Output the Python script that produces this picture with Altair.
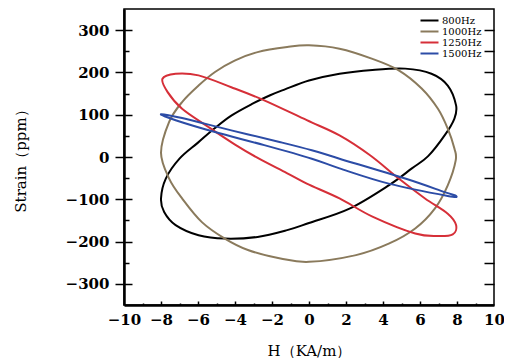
import altair as alt
import pandas as pd

freqs = ["800Hz", "1000Hz", "1250Hz", "1500Hz"]
colors = ["#000000", "#8a7a5c", "#d62f38", "#2c4ca6"]

h_800 = [7.95, 7.5, 6.62, 5.2, 3.43, 1.65, 0.0, -1.3, -2.1, -3.1, -4.2, -5.1, -6.0, -7.0, -7.74, -8.0, -7.83, -7.21, -5.97, -4.55, -2.78, -1.18, 0.0, 2.19, 4.31, 5.56, 6.44, 7.33, 7.86]
s_800 = [122, 169, 197, 209, 206, 197, 181, 160, 146, 125, 98, 68, 34, -4, -51, -98, -130, -161, -185, -193, -189, -173, -156, -122, -67, -27, 2, 51, 91]

h_1000 = [0.0, 1.65, 3.43, 4.85, 6.09, 6.97, 7.5, 7.86, 7.93, 7.5, 6.8, 5.74, 4.31, 2.54, 0.0, -1.54, -3.3, -4.55, -5.79, -6.86, -7.56, -8.0, -7.56, -6.86, -5.97, -5.08, -4.02, -2.78, -1.18]
s_1000 = [264, 256, 232, 205, 162, 114, 67, 20, -8, -67, -122, -169, -205, -232, -248, -240, -220, -193, -154, -98, -51, 10, 83, 130, 169, 201, 228, 248, 260]

h_1250 = [-7.92, -7.21, -5.97, -4.2, -2.42, -0.12, 1.65, 3.3, 4.85, 6.27, 7.5, 7.95, 7.77, 6.97, 5.74, 3.43, 1.65, -0.12, -1.2, -2.7, -4.02, -5.44, -6.86, -7.65]
s_1250 = [185, 197, 193, 165, 134, 87, 51, 4, -51, -98, -134, -161, -183, -187, -181, -141, -98, -63, -38, -4, 30, 71, 114, 154]

h_1500 = [-8.0, -6.86, -4.2, -1.54, 0.15, 1.65, 5.2, 7.33, 7.95, 7.5, 4.31, 1.65, 0.15, -2.42, -5.08, -7.21]
s_1500 = [101, 92, 63, 35, 16, -4, -51, -83, -92, -92, -63, -27, -4, 28, 59, 87]

x_major = [-10, -8, -6, -4, -2, 0, 2, 4, 6, 8, 10]
x_inner = [-8, -6, -4, -2, 0, 2, 4, 6, 8]
x_minor = [-9, -7, -5, -3, -1, 1, 3, 5, 7, 9]
y_major = [-300, -200, -100, 0, 100, 200, 300]
y_minor = [-250, -150, -50, 50, 150, 250]
y_right = [-300, -250, -200, -150, -100, -50, 0, 50, 100, 150, 200, 250, 300]

rows = []
for f, hs, ss in [("800Hz", h_800, s_800), ("1000Hz", h_1000, s_1000),
                  ("1250Hz", h_1250, s_1250), ("1500Hz", h_1500, s_1500)]:
    for i, (h, s) in enumerate(zip(hs, ss)):
        rows.append({"freq": f, "idx": i, "H": h, "strain": s})
df = pd.DataFrame(rows)

FONT = "DejaVu Serif"
xscale = alt.Scale(domain=[-10, 10], nice=False, zero=False)
yscale = alt.Scale(domain=[-350, 350], nice=False, zero=False)

def blank_axis(orient, values, size, offset):
    return alt.Axis(orient=orient, values=values, tickSize=size, offset=offset,
                    labels=False, domain=False, grid=False, title=None,
                    tickColor="black", tickWidth=1.5)

lines = alt.Chart(df).mark_line(interpolate="cardinal-closed", strokeWidth=2).encode(
    x=alt.X("H:Q", scale=xscale, axis=alt.Axis(
        orient="bottom", values=x_major, tickSize=0, labelPadding=7,
        domainWidth=2.5, domainColor="black", grid=False, format="d",
        title="H（KA/m）", labelFont=FONT, labelFontSize=15, labelFontWeight="bold",
        labelColor="black", labelFlush=False, labelOverlap=False,
        titleFont=FONT, titleFontSize=15, titleFontWeight="normal",
        titleColor="black", titlePadding=16)),
    y=alt.Y("strain:Q", scale=yscale, axis=alt.Axis(
        orient="left", values=y_major, tickSize=9, tickWidth=1.5, tickColor="black",
        labelPadding=6, domainWidth=2.5, domainColor="black", grid=False, format="d",
        title="Strain（ppm）", labelFont=FONT, labelFontSize=15, labelFontWeight="bold",
        labelColor="black", labelFlush=False, labelOverlap=False,
        titleFont=FONT, titleFontSize=15, titleFontWeight="normal",
        titleColor="black", titlePadding=37)),
    color=alt.Color("freq:N", scale=alt.Scale(domain=freqs, range=colors),
                    legend=alt.Legend(title=None, orient="none", legendX=300, legendY=6,
                                      symbolType="M-2,0H2", symbolSize=81,
                                      symbolStrokeWidth=2, labelFont=FONT,
                                      labelFontSize=10, labelColor="black",
                                      rowPadding=0, labelOffset=7, padding=0)),
    order=alt.Order("idx:Q"),
)

def axis_layer(xaxis, yaxis):
    return alt.Chart(df).mark_point(opacity=0).encode(
        x=alt.X("H:Q", scale=xscale, axis=xaxis),
        y=alt.Y("strain:Q", scale=yscale, axis=yaxis),
    )

a2 = axis_layer(blank_axis("bottom", x_inner, 4, -4), blank_axis("left", y_major, 8, -8))
a3 = axis_layer(blank_axis("bottom", x_minor, 2, -2), blank_axis("left", y_minor, 5, -5))
a4 = axis_layer(None, alt.Axis(orient="right", values=y_right, tickSize=10, offset=-10,
                               labels=False, domain=False, grid=False, title=None,
                               tickColor="black", tickWidth=1.5))

chart = alt.layer(lines, a2, a3, a4).resolve_scale(
    x="independent", y="independent"
).resolve_axis(
    x="independent", y="independent"
).properties(
    width=370, height=296, autosize="none",
    padding={"left": 116, "top": 1, "right": 10, "bottom": 55},
).configure_view(stroke="black", strokeWidth=1.5)

chart.save("out.html", embed_options={"renderer": "svg", "actions": False})
